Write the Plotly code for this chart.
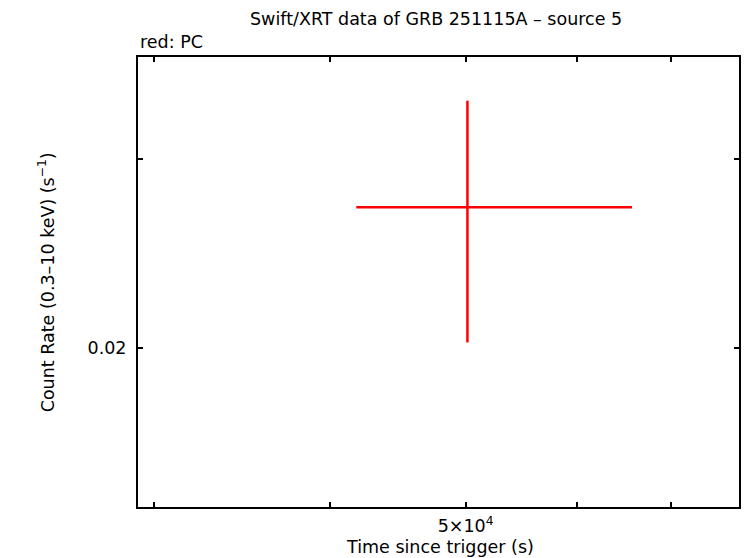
import plotly.graph_objects as go

# Data
time_s = [50150.0]
time_lo = [41790.0]
time_hi = [65700.0]
rate = [0.02705]
rate_lo = [0.02024]
rate_hi = [0.0340]

x_tickvals = [30000, 40000, 50000, 60000, 70000]
x_ticktext = ["", "", "5×10<sup>4</sup>", "", ""]
y_tickvals = [0.02, 0.03]
y_ticktext = ["0.02", ""]

FONT = "DejaVu Sans, Liberation Sans, Arial, sans-serif"
FS = 17.5

# plot area in pixels
L, R, T, B = 138, 741, 57, 507
W, H = R - L, B - T

def px(xp):
    return (xp - L) / W

def py(yp):
    return (B - yp) / H

fig = go.Figure()
fig.add_trace(go.Scatter(
    x=time_s, y=rate, mode="markers",
    marker=dict(size=1, color="red", opacity=0),
    error_x=dict(type="data", symmetric=False,
                 array=[h - x for h, x in zip(time_hi, time_s)],
                 arrayminus=[x - l for l, x in zip(time_lo, time_s)],
                 color="red", thickness=2.5, width=0),
    error_y=dict(type="data", symmetric=False,
                 array=[h - y for h, y in zip(rate_hi, rate)],
                 arrayminus=[y - l for l, y in zip(rate_lo, rate)],
                 color="red", thickness=2.5, width=0),
    showlegend=False,
    hoverinfo="skip",
))

axis_common = dict(showline=True, linecolor="black", linewidth=2, mirror="allticks",
                   ticks="inside", ticklen=5, tickwidth=2, tickcolor="black",
                   showgrid=False, zeroline=False,
                   tickfont=dict(family=FONT, size=FS, color="black"))

fig.update_layout(
    width=746, height=558,
    margin=dict(l=L, r=746 - R, t=T, b=558 - B, pad=0),
    paper_bgcolor="white", plot_bgcolor="white",
    xaxis=dict(type="log", range=[4.46546, 4.89384],
               tickmode="array", tickvals=x_tickvals, ticktext=x_ticktext,
               ticklabelstandoff=2, **axis_common),
    yaxis=dict(type="log", range=[-1.84717, -1.42777],
               tickmode="array", tickvals=y_tickvals, ticktext=y_ticktext,
               ticklabelstandoff=6, **axis_common),
    annotations=[
        dict(text="Swift/XRT data of GRB 251115A – source 5", x=px(437), y=py(19),
             xref="paper", yref="paper", xanchor="center", yanchor="middle",
             showarrow=False, font=dict(family=FONT, size=FS, color="black")),
        dict(text="red: PC", x=0, y=py(42), xref="paper", yref="paper",
             xanchor="left", yanchor="middle", showarrow=False,
             font=dict(family=FONT, size=FS, color="black")),
        dict(text="Time since trigger (s)", x=px(441), y=py(547),
             xref="paper", yref="paper", xanchor="center", yanchor="middle",
             showarrow=False, font=dict(family=FONT, size=FS, color="black")),
        dict(text="Count Rate (0.3–10 keV) (s<sup>−1</sup>)", x=px(46), y=py(282),
             xref="paper", yref="paper", xanchor="center", yanchor="middle",
             textangle=-90, showarrow=False,
             font=dict(family=FONT, size=FS, color="black")),
    ],
)

fig.write_html("out.html", config={"displayModeBar": False},
               post_script="document.body.style.margin='0';")
